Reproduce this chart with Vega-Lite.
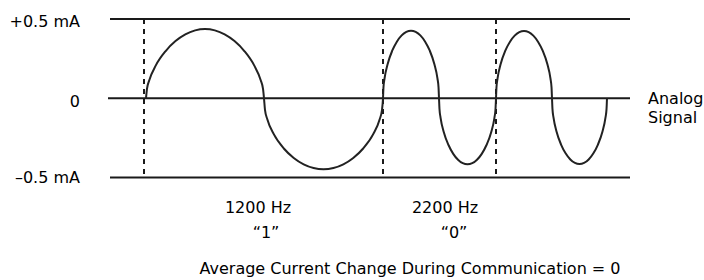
{
  "$schema": "https://vega.github.io/schema/vega-lite/v6.json",
  "width": 704,
  "height": 280,
  "padding": 0,
  "autosize": {"type": "fit", "contains": "padding"},
  "background": "white",
  "config": {"view": {"stroke": null}, "text": {"font": "DejaVu Sans", "fontSize": 16, "color": "#000"}},
  "datasets": {
    "levels": [
      {"level": 0.5, "from": 110, "to": 630},
      {"level": 0, "from": 108, "to": 630},
      {"level": -0.5, "from": 110, "to": 630}
    ],
    "bits": [
      {"t": 144}, {"t": 383}, {"t": 496}
    ],
    "wave": [
      {"t": 146, "mA": 0}, {"t": 146.98, "mA": 0.059}, {"t": 149.28, "mA": 0.1142}, {"t": 155.83, "mA": 0.2077}, {"t": 165.67, "mA": 0.2985}, {"t": 175.5, "mA": 0.3612}, {"t": 185.33, "mA": 0.4037}, {"t": 195.17, "mA": 0.4287}, {"t": 205, "mA": 0.437}, {"t": 214.83, "mA": 0.4287}, {"t": 224.67, "mA": 0.4037}, {"t": 234.5, "mA": 0.3612}, {"t": 244.33, "mA": 0.2985}, {"t": 254.17, "mA": 0.2077}, {"t": 260.72, "mA": 0.1142}, {"t": 263.02, "mA": 0.059}, {"t": 264, "mA": 0},
      {"t": 264.99, "mA": -0.0725}, {"t": 267.31, "mA": -0.1323}, {"t": 273.92, "mA": -0.2279}, {"t": 283.83, "mA": -0.3168}, {"t": 293.75, "mA": -0.3767}, {"t": 303.67, "mA": -0.4169}, {"t": 313.58, "mA": -0.4403}, {"t": 323.5, "mA": -0.448}, {"t": 333.42, "mA": -0.4403}, {"t": 343.33, "mA": -0.4169}, {"t": 353.25, "mA": -0.3767}, {"t": 363.17, "mA": -0.3168}, {"t": 373.08, "mA": -0.2279}, {"t": 379.69, "mA": -0.1323}, {"t": 382.01, "mA": -0.0725}, {"t": 383, "mA": 0},
      {"t": 383.47, "mA": 0.0691}, {"t": 384.56, "mA": 0.1261}, {"t": 387.67, "mA": 0.2172}, {"t": 392.33, "mA": 0.3019}, {"t": 397, "mA": 0.3591}, {"t": 401.67, "mA": 0.3974}, {"t": 406.33, "mA": 0.4197}, {"t": 411, "mA": 0.427}, {"t": 415.67, "mA": 0.4197}, {"t": 420.33, "mA": 0.3974}, {"t": 425, "mA": 0.3591}, {"t": 429.67, "mA": 0.3019}, {"t": 434.33, "mA": 0.2172}, {"t": 437.44, "mA": 0.1261}, {"t": 438.53, "mA": 0.0691}, {"t": 439, "mA": 0},
      {"t": 439.48, "mA": -0.0675}, {"t": 440.58, "mA": -0.1231}, {"t": 443.75, "mA": -0.2121}, {"t": 448.5, "mA": -0.2949}, {"t": 453.25, "mA": -0.3507}, {"t": 458, "mA": -0.3881}, {"t": 462.75, "mA": -0.4098}, {"t": 467.5, "mA": -0.417}, {"t": 472.25, "mA": -0.4098}, {"t": 477, "mA": -0.3881}, {"t": 481.75, "mA": -0.3507}, {"t": 486.5, "mA": -0.2949}, {"t": 491.25, "mA": -0.2121}, {"t": 494.42, "mA": -0.1231}, {"t": 495.52, "mA": -0.0675}, {"t": 496, "mA": 0},
      {"t": 496.47, "mA": 0.0688}, {"t": 497.56, "mA": 0.1255}, {"t": 500.67, "mA": 0.2162}, {"t": 505.33, "mA": 0.3005}, {"t": 510, "mA": 0.3574}, {"t": 514.67, "mA": 0.3955}, {"t": 519.33, "mA": 0.4177}, {"t": 524, "mA": 0.425}, {"t": 528.67, "mA": 0.4177}, {"t": 533.33, "mA": 0.3955}, {"t": 538, "mA": 0.3574}, {"t": 542.67, "mA": 0.3005}, {"t": 547.33, "mA": 0.2162}, {"t": 550.44, "mA": 0.1255}, {"t": 551.53, "mA": 0.0688}, {"t": 552, "mA": 0},
      {"t": 552.46, "mA": -0.0671}, {"t": 553.53, "mA": -0.1225}, {"t": 556.58, "mA": -0.2111}, {"t": 561.17, "mA": -0.2935}, {"t": 565.75, "mA": -0.349}, {"t": 570.33, "mA": -0.3862}, {"t": 574.92, "mA": -0.4079}, {"t": 579.5, "mA": -0.415}, {"t": 584.08, "mA": -0.4079}, {"t": 588.67, "mA": -0.3862}, {"t": 593.25, "mA": -0.349}, {"t": 597.83, "mA": -0.2935}, {"t": 602.42, "mA": -0.2111}, {"t": 605.47, "mA": -0.1225}, {"t": 606.54, "mA": -0.0671}, {"t": 607, "mA": 0}
    ],
    "ylabels": [
      {"label": "+0.5 mA", "t": 80, "mA": 0.452},
      {"label": "0", "t": 80, "mA": -0.0518},
      {"label": "–0.5 mA", "t": 80, "mA": -0.535}
    ],
    "notes": [
      {"label": "1200 Hz", "t": 258, "mA": -0.724},
      {"label": "“1”", "t": 266, "mA": -0.882},
      {"label": "2200 Hz", "t": 445, "mA": -0.724},
      {"label": "“0”", "t": 454, "mA": -0.882},
      {"label": "Average Current Change During Communication = 0", "t": 410, "mA": -1.107}
    ],
    "side": [
      {"label": ["Analog", "Signal"], "t": 648, "mA": -0.036}
    ]
  },
  "layer": [
    {
      "data": {"name": "levels"},
      "mark": {"type": "rule", "stroke": "#1a1a1a", "strokeWidth": 2},
      "encoding": {
        "x": {"field": "from", "type": "quantitative", "scale": {"domain": [0, 704], "nice": false, "zero": false}, "axis": null},
        "x2": {"field": "to"},
        "y": {"field": "level", "type": "quantitative", "scale": {"domain": [-1.1471, 0.6206], "nice": false, "zero": false}, "axis": null}
      }
    },
    {
      "data": {"name": "bits"},
      "mark": {"type": "rule", "stroke": "#1a1a1a", "strokeWidth": 2, "strokeDash": [5, 5]},
      "encoding": {
        "x": {"field": "t", "type": "quantitative", "scale": {"domain": [0, 704], "nice": false, "zero": false}, "axis": null},
        "y": {"datum": 0.5, "type": "quantitative", "scale": {"domain": [-1.1471, 0.6206], "nice": false, "zero": false}, "axis": null},
        "y2": {"datum": -0.5}
      }
    },
    {
      "data": {"name": "wave"},
      "mark": {"type": "line", "stroke": "#222", "strokeWidth": 2, "interpolate": "monotone"},
      "encoding": {
        "x": {"field": "t", "type": "quantitative", "scale": {"domain": [0, 704], "nice": false, "zero": false}, "axis": null},
        "y": {"field": "mA", "type": "quantitative", "scale": {"domain": [-1.1471, 0.6206], "nice": false, "zero": false}, "axis": null}
      }
    },
    {
      "data": {"name": "ylabels"},
      "mark": {"type": "text", "align": "right", "baseline": "alphabetic"},
      "encoding": {
        "x": {"field": "t", "type": "quantitative", "scale": {"domain": [0, 704], "nice": false, "zero": false}, "axis": null},
        "y": {"field": "mA", "type": "quantitative", "scale": {"domain": [-1.1471, 0.6206], "nice": false, "zero": false}, "axis": null},
        "text": {"field": "label"}
      }
    },
    {
      "data": {"name": "notes"},
      "mark": {"type": "text", "align": "center", "baseline": "alphabetic"},
      "encoding": {
        "x": {"field": "t", "type": "quantitative", "scale": {"domain": [0, 704], "nice": false, "zero": false}, "axis": null},
        "y": {"field": "mA", "type": "quantitative", "scale": {"domain": [-1.1471, 0.6206], "nice": false, "zero": false}, "axis": null},
        "text": {"field": "label"}
      }
    },
    {
      "data": {"name": "side"},
      "mark": {"type": "text", "align": "left", "baseline": "alphabetic", "lineHeight": 19},
      "encoding": {
        "x": {"field": "t", "type": "quantitative", "scale": {"domain": [0, 704], "nice": false, "zero": false}, "axis": null},
        "y": {"field": "mA", "type": "quantitative", "scale": {"domain": [-1.1471, 0.6206], "nice": false, "zero": false}, "axis": null},
        "text": {"field": "label"}
      }
    }
  ]
}
